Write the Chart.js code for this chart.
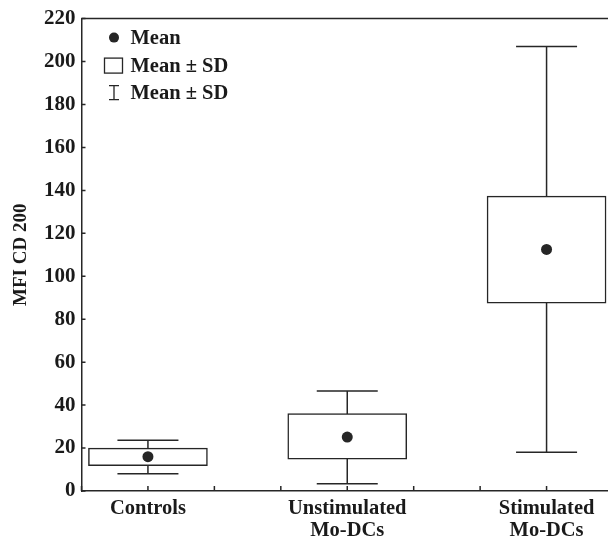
<!DOCTYPE html>
<html>
<head>
<meta charset="utf-8">
<script src="https://cdn.jsdelivr.net/npm/chart.js@4.4.0/dist/chart.umd.min.js"></script>
<style>
  html, body { margin: 0; padding: 0; background: #fff; }
  .chart-wrap { width: 608px; height: 540px; overflow: hidden; }
  canvas { display: block; }
</style>
</head>
<body>
<div class="chart-wrap"><canvas id="chart" width="620" height="540"></canvas></div>
<script>
// groups and where they sit on the x axis (axis runs 0..8, ticks every 1)
const groups = ['Controls', ['Unstimulated', 'Mo-DCs'], ['Stimulated', 'Mo-DCs']];
const groupPos = [1, 4, 7];

// values
const means = [16, 25.1, 112.5];
const boxLow = [11.8, 14.8, 87.5];
const boxHigh = [20, 36, 137.3];
const whiskerLow = [8, 3.4, 18];
const whiskerHigh = [23.6, 46.6, 207];

const yMin = 0, yMax = 220, yStep = 20;
const legendLabels = ['Mean', 'Mean \u00b1 SD', 'Mean \u00b1 SD'];

const ink = '#262626';
const fontFamily = "'Liberation Serif', 'Times New Roman', serif";
Chart.defaults.font.family = fontFamily;
Chart.defaults.color = '#1a1a1a';

const capHalf = 30.5;

const boxExtras = {
    id: 'boxExtras',
    beforeDatasetsDraw(chart) {
        const { ctx, scales: { x, y } } = chart;
        ctx.save();
        ctx.strokeStyle = ink;
        ctx.lineWidth = 1.5;
        groupPos.forEach((p, i) => {
            const cx = x.getPixelForValue(p);
            const top = y.getPixelForValue(whiskerHigh[i]);
            const bot = y.getPixelForValue(whiskerLow[i]);
            ctx.beginPath();
            ctx.moveTo(cx, top); ctx.lineTo(cx, bot);
            ctx.moveTo(cx - capHalf, top); ctx.lineTo(cx + capHalf, top);
            ctx.moveTo(cx - capHalf, bot); ctx.lineTo(cx + capHalf, bot);
            ctx.stroke();
        });
        ctx.restore();
    },
    afterDraw(chart) {
        const { ctx, chartArea: area, scales: { x, y } } = chart;
        ctx.save();
        ctx.strokeStyle = ink;
        ctx.lineWidth = 1.5;

        // top frame line
        ctx.beginPath();
        ctx.moveTo(area.left, area.top);
        ctx.lineTo(area.right, area.top);
        ctx.stroke();

        // inward tick marks
        ctx.beginPath();
        x.ticks.forEach(t => {
            const px = x.getPixelForValue(t.value);
            ctx.moveTo(px, area.bottom);
            ctx.lineTo(px, area.bottom - 5);
        });
        y.ticks.forEach(t => {
            const py = y.getPixelForValue(t.value);
            ctx.moveTo(area.left, py);
            ctx.lineTo(area.left + 4, py);
        });
        ctx.stroke();

        // legend
        const sx = area.left + 32.5;
        const tx = area.left + 49;
        const rows = [area.top + 19, area.top + 47, area.top + 74];
        ctx.fillStyle = ink;
        ctx.beginPath();
        ctx.arc(sx, rows[0], 5, 0, Math.PI * 2);
        ctx.fill();

        ctx.lineWidth = 1.3;
        ctx.strokeRect(sx - 9.5, rows[1] - 7.5, 18, 15);

        ctx.beginPath();
        ctx.moveTo(sx, rows[2] - 7); ctx.lineTo(sx, rows[2] + 7);
        ctx.moveTo(sx - 5, rows[2] - 7); ctx.lineTo(sx + 5, rows[2] - 7);
        ctx.moveTo(sx - 5, rows[2] + 7); ctx.lineTo(sx + 5, rows[2] + 7);
        ctx.stroke();

        ctx.fillStyle = '#1a1a1a';
        ctx.font = 'bold 20.5px ' + fontFamily;
        ctx.textBaseline = 'middle';
        ctx.textAlign = 'left';
        legendLabels.forEach((lab, i) => ctx.fillText(lab, tx, rows[i] + 1));
        ctx.restore();
    }
};

new Chart(document.getElementById('chart'), {
    type: 'bar',
    data: {
        datasets: [
            {
                type: 'scatter',
                data: groupPos.map((p, i) => ({ x: p, y: means[i] })),
                pointRadius: 5.5,
                pointBackgroundColor: ink,
                pointBorderWidth: 0,
                order: 0
            },
            {
                type: 'bar',
                data: groupPos.map((p, i) => ({ x: p, y: [boxLow[i], boxHigh[i]] })),
                backgroundColor: '#ffffff',
                borderColor: ink,
                borderWidth: 1.5,
                borderSkipped: false,
                barThickness: 119,
                order: 1
            }
        ]
    },
    options: {
        responsive: false,
        animation: false,
        layout: { padding: { top: 13, right: 3.3, left: 0, bottom: 0 } },
        plugins: {
            legend: { display: false },
            tooltip: { enabled: false }
        },
        scales: {
            x: {
                type: 'linear',
                min: 0,
                max: 8,
                offset: false,
                grid: { display: false, drawTicks: false, offset: false },
                border: { display: true, color: ink, width: 1.5 },
                afterFit: (scale) => { scale.height = 49; },
                ticks: {
                    stepSize: 1,
                    autoSkip: false,
                    maxRotation: 0,
                    padding: 7,
                    font: { size: 20.5, weight: 'bold', lineHeight: 1.05 },
                    callback: (value) => {
                        const i = groupPos.indexOf(value);
                        return i >= 0 ? groups[i] : '';
                    }
                }
            },
            y: {
                min: yMin,
                max: yMax,
                grid: { display: false, drawTicks: false },
                border: { display: true, color: ink, width: 1.5 },
                afterFit: (scale) => { scale.width = 81.5; },
                ticks: {
                    stepSize: yStep,
                    padding: 6,
                    font: { size: 21, weight: 'bold' }
                },
                title: {
                    display: true,
                    text: 'MFI CD 200',
                    font: { size: 19, weight: 'bold' },
                    padding: { top: 10, bottom: 0 }
                }
            }
        }
    },
    plugins: [boxExtras]
});
</script>
</body>
</html>
